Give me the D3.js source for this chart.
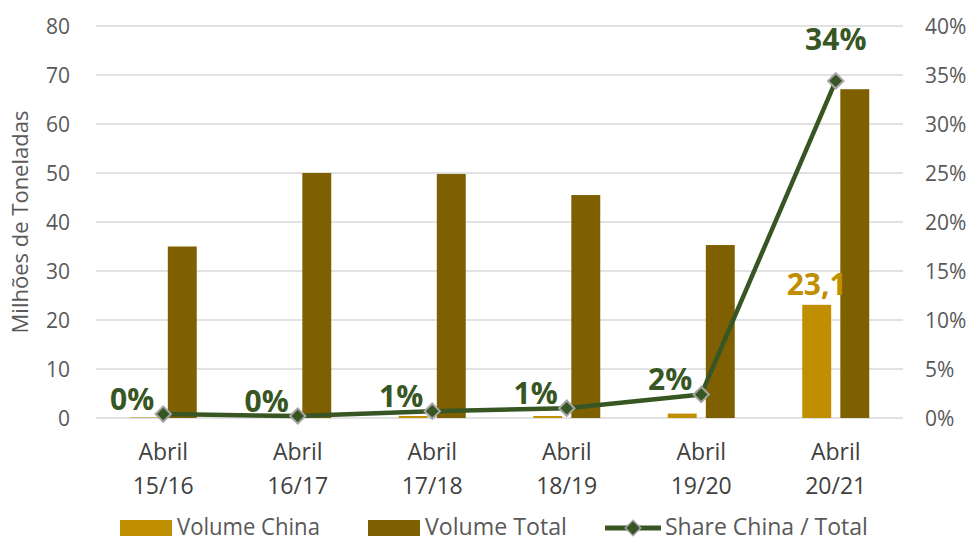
<!DOCTYPE html>
<html lang="pt">
<head>
  <meta charset="UTF-8">
  <title>Volume China x Total</title>
  <script src="https://d3js.org/d3.v7.min.js"></script>
  <style>
    body { margin: 0; background: #fff; }
    svg { display: block; font-family: "Open Sans", Lato, sans-serif; }
    .grid line { stroke: #d9d9d9; stroke-width: 1.3; }
    .tick-label { fill: #595959; font-size: 21px; }
    .cat-label { fill: #404040; font-size: 23px; text-anchor: middle; }
    .legend text { fill: #595959; font-size: 23px; }
  </style>
</head>
<body>
<div id="chart"></div>
<script>
  const categories = ["Abril 15/16", "Abril 16/17", "Abril 17/18", "Abril 18/19", "Abril 19/20", "Abril 20/21"];
  const volumeChina = [0.1, 0.1, 0.4, 0.4, 0.9, 23.1];
  const volumeTotal = [35.0, 50.0, 49.8, 45.5, 35.3, 67.1];
  const shareChina = [0.004, 0.002, 0.007, 0.01, 0.024, 0.344];
  const shareLabels = ["0%", "0%", "1%", "1%", "2%", "34%"];
  const leftTicks = [0, 10, 20, 30, 40, 50, 60, 70, 80];
  const rightTicks = [0, 0.05, 0.1, 0.15, 0.2, 0.25, 0.3, 0.35, 0.4];

  const colors = { china: "#bf8f00", total: "#7f6000", line: "#375623", marker: "#a5a5a5" };

  const width = 970, height = 538;
  const plot = { left: 96, right: 903, top: 26, bottom: 418 };

  const svg = d3.select("#chart").append("svg")
    .attr("width", width)
    .attr("height", height);

  const x0 = d3.scaleBand().domain(categories).range([plot.left, plot.right]);
  const cw = x0.bandwidth();
  const x1 = d3.scaleBand().domain(["china", "total"])
    .range([cw / 2 - 33.5, cw / 2 + 33.5]).paddingInner(0.24);
  const y = d3.scaleLinear().domain([0, 80]).range([plot.bottom, plot.top]);
  const y2 = d3.scaleLinear().domain([0, 0.4]).range([plot.bottom, plot.top]);

  // gridlines
  svg.append("g").attr("class", "grid")
    .selectAll("line").data(leftTicks).join("line")
    .attr("x1", plot.left).attr("x2", plot.right)
    .attr("y1", d => y(d)).attr("y2", d => y(d));

  // left axis labels
  svg.append("g").selectAll("text").data(leftTicks).join("text")
    .attr("class", "tick-label")
    .attr("x", 70).attr("y", d => y(d)).attr("dy", "0.36em")
    .attr("text-anchor", "end")
    .text(d => d);

  // right axis labels
  svg.append("g").selectAll("text").data(rightTicks).join("text")
    .attr("class", "tick-label")
    .attr("x", 925).attr("y", d => y2(d)).attr("dy", "0.36em")
    .text(d => d3.format(".0%")(d));

  // y axis title
  svg.append("text")
    .attr("class", "tick-label")
    .attr("transform", `translate(28,${(plot.top + plot.bottom) / 2}) rotate(-90)`)
    .attr("text-anchor", "middle")
    .style("font-size", "22px")
    .text("Milhões de Toneladas");

  // category labels
  const cats = svg.append("g").selectAll("text").data(categories).join("text")
    .attr("class", "cat-label")
    .attr("x", d => x0(d) + cw / 2);
  cats.append("tspan").attr("x", d => x0(d) + cw / 2).attr("y", 460).text(d => d.split(" ")[0]);
  cats.append("tspan").attr("x", d => x0(d) + cw / 2).attr("y", 494).text(d => d.split(" ")[1]);

  // bars
  const groups = svg.append("g").selectAll("g").data(categories).join("g")
    .attr("transform", d => `translate(${x0(d)},0)`);

  groups.append("rect")
    .attr("x", x1("china")).attr("width", x1.bandwidth())
    .attr("y", (d, i) => y(volumeChina[i]))
    .attr("height", (d, i) => y(0) - y(volumeChina[i]))
    .attr("fill", colors.china);

  groups.append("rect")
    .attr("x", x1("total")).attr("width", x1.bandwidth())
    .attr("y", (d, i) => y(volumeTotal[i]))
    .attr("height", (d, i) => y(0) - y(volumeTotal[i]))
    .attr("fill", colors.total);

  // china label on last bar
  const lastCat = categories[categories.length - 1];
  svg.append("text")
    .attr("x", x0(lastCat) + x1("china") + x1.bandwidth() / 2)
    .attr("y", y(volumeChina[5]) - 10)
    .attr("text-anchor", "middle")
    .attr("fill", colors.china)
    .style("font-size", "30px").style("font-weight", "bold")
    .text(d3.format(".1f")(volumeChina[5]).replace(".", ","));

  // share line
  const pts = categories.map((c, i) => [x0(c) + cw / 2, y2(shareChina[i])]);
  svg.append("path")
    .attr("d", d3.line()(pts))
    .attr("fill", "none")
    .attr("stroke", colors.line)
    .attr("stroke-width", 4.5)
    .attr("stroke-linejoin", "round");

  svg.append("g").selectAll("path").data(pts).join("path")
    .attr("transform", d => `translate(${d[0]},${d[1]})`)
    .attr("d", d3.symbol(d3.symbolDiamond2, 150)())
    .attr("fill", colors.line)
    .attr("stroke", colors.marker)
    .attr("stroke-width", 2);

  svg.append("g").selectAll("text").data(pts).join("text")
    .attr("x", (d, i) => i === 5 ? d[0] : d[0] - 9)
    .attr("y", (d, i) => i === 5 ? d[1] - 31 : d[1] - 4)
    .attr("text-anchor", (d, i) => i === 5 ? "middle" : "end")
    .attr("fill", colors.line)
    .style("font-size", "30px").style("font-weight", "bold")
    .text((d, i) => shareLabels[i]);

  // legend
  const legend = svg.append("g").attr("class", "legend");
  function legendText(x, label, w) {
    const t = legend.append("text").attr("x", 0).attr("y", 0).text(label);
    const natural = t.node().getComputedTextLength();
    t.attr("transform", `translate(${x},535) scale(${w / natural},1)`);
  }
  legend.append("rect").attr("x", 120).attr("y", 520).attr("width", 52).attr("height", 16).attr("fill", colors.china);
  legendText(177, "Volume China", 143);
  legend.append("rect").attr("x", 368).attr("y", 520).attr("width", 52).attr("height", 16).attr("fill", colors.total);
  legendText(425, "Volume Total", 142);
  legend.append("line").attr("x1", 605).attr("x2", 661).attr("y1", 528).attr("y2", 528)
    .attr("stroke", colors.line).attr("stroke-width", 5);
  legend.append("path").attr("transform", "translate(633,528)")
    .attr("d", d3.symbol(d3.symbolDiamond2, 150)())
    .attr("fill", colors.line).attr("stroke", colors.marker).attr("stroke-width", 1.5);
  legendText(665, "Share China / Total", 203);
</script>
</body>
</html>
